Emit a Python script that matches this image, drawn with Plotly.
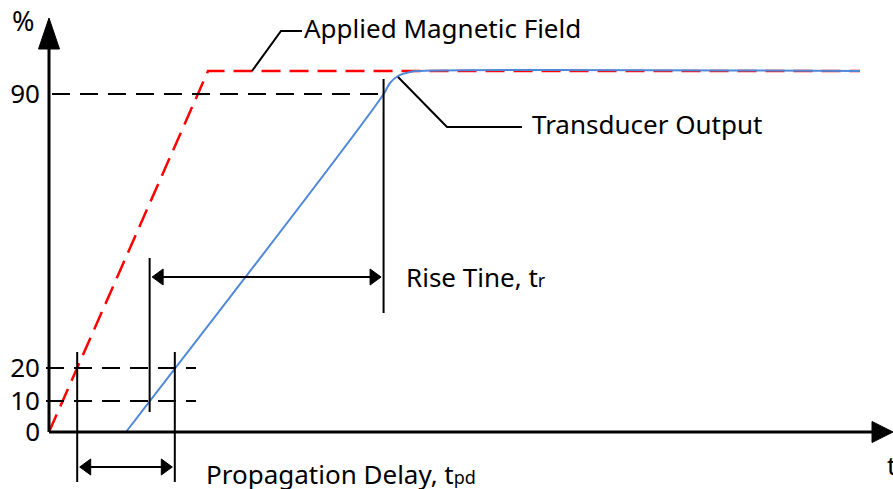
import numpy as np
import plotly.graph_objects as go

# drawing units: 1 unit ~ 1 px, origin at the corner of the axes
field_t = [0, 159, 811]
field_level = [0, 361, 361]

output_t = [77, 334, 341, 349, 361, 371, 811]
output_level = [0, 337, 349, 356, 360, 361, 361]

tick_levels = [0, 31, 64, 338]
tick_text = ["0", "10", "20", "90"]

FONT = "Noto Sans"
BLACK = "#000000"

lvl10, lvl20, lvl90 = tick_levels[1], tick_levels[2], tick_levels[3]
t10_out = float(np.interp(lvl10, output_level[:3], output_t[:3]))
t20_out = float(np.interp(lvl20, output_level[:3], output_t[:3]))
t90_out = float(np.interp(lvl90, output_level[:3], output_t[:3]))
t20_field = float(np.interp(lvl20, field_level[:2], field_t[:2]))

x_rng = [-49, 844]
y_rng = [-57, 432]

fig = go.Figure()
fig.add_trace(go.Scatter(x=field_t, y=field_level, mode="lines",
                         line=dict(color="#ff0000", width=2.5, dash="19px,9px")))
fig.add_trace(go.Scatter(x=output_t, y=output_level, mode="lines",
                         line=dict(color="#4f88d8", width=2), line_shape="spline"))

shapes = []


def line(x0, y0, x1, y1, width=2, dash=None):
    shapes.append(dict(type="line", x0=x0, y0=y0, x1=x1, y1=y1, xref="x", yref="y",
                       line=dict(color=BLACK, width=width, dash=dash)))


def tri(pts):
    p = "M " + " L ".join(f"{a},{b}" for a, b in pts) + " Z"
    shapes.append(dict(type="path", path=p, xref="x", yref="y",
                       fillcolor=BLACK, line=dict(color=BLACK, width=1)))


# axes with arrow heads
y_top, x_end = 414, 844
line(0, 0, 0, y_top - 30, width=3)
tri([(-10.5, y_top - 31), (10.5, y_top - 31), (0, y_top)])
line(0, 0, x_end - 20, 0, width=3)
tri([(x_end - 21, 10.5), (x_end - 21, -10.5), (x_end, 0)])

# dashed reference levels
line(3, lvl90, t90_out, lvl90, dash="18px,10px")
line(-3, lvl20, 147, lvl20, dash="18px,10px")
line(-3, lvl10, 147, lvl10, dash="18px,10px")

# vertical markers
line(t20_field, -50, t20_field, 80)
line(t20_out, -50, t20_out, 80)
line(t10_out, 20, t10_out, 174)
line(t90_out, 119, t90_out, 353)


def dim_arrow(xa, xb, lev):
    a, b = xa + 2.5, xb - 2.5
    line(a + 8, lev, b - 8, lev)
    tri([(a + 11, lev + 8), (a + 11, lev - 8), (a, lev)])
    tri([(b - 11, lev + 8), (b - 11, lev - 8), (b, lev)])


dim_arrow(t10_out, t90_out, 155)
dim_arrow(t20_field, t20_out, -35)

# leader lines
shapes.append(dict(type="path", path="M 203,361 L 232,401 L 253,401", xref="x", yref="y",
                   line=dict(color=BLACK, width=2)))
shapes.append(dict(type="path", path="M 349,355 L 398,305 L 473,305", xref="x", yref="y",
                   line=dict(color=BLACK, width=2)))

ann = []


def label(x, y, text, size=26, xanchor="left"):
    ann.append(dict(x=x, y=y, xref="x", yref="y", text=text, showarrow=False,
                    xanchor=xanchor, yanchor="middle",
                    font=dict(family=FONT, size=size, color=BLACK)))


label(253, 404, "Applied Magnetic Field")
label(481, 308, "Transducer Output")
label(355, 155, "Rise Tine, t<span style='font-size:18px'>r</span>")
label(155, -42, "Propagation Delay, t<span style='font-size:18px'>pd</span>")
label(-26, 412, "%", size=27, xanchor="center")
label(836, -33, "t")

fig.update_layout(
    width=893, height=489,
    margin=dict(l=0, r=0, t=0, b=0, pad=0),
    paper_bgcolor="white", plot_bgcolor="white",
    showlegend=False,
    shapes=shapes, annotations=ann,
    xaxis=dict(range=x_rng, visible=False, automargin=False),
    yaxis=dict(range=y_rng, anchor="free", position=49 / 893, showgrid=False,
               zeroline=False, showline=False, ticks="", automargin=False,
               ticklabelstandoff=9,
               tickvals=tick_levels, ticktext=tick_text,
               tickfont=dict(family=FONT, size=26, color=BLACK)),
)

fig.write_html("out.html", config={"displayModeBar": False},
               post_script="document.body.style.margin='0';")
